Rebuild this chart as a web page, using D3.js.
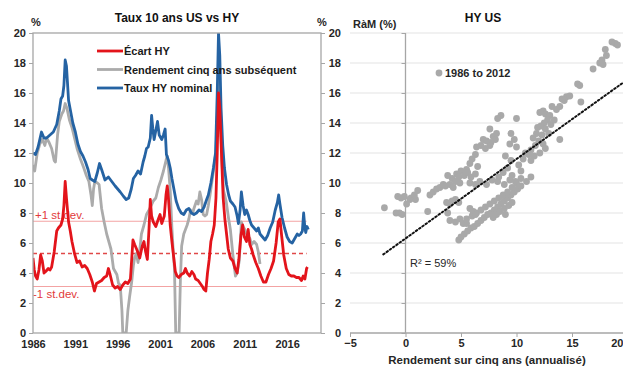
<!DOCTYPE html>
<html><head><meta charset="utf-8">
<script src="https://cdn.jsdelivr.net/npm/d3@7"></script>
<style>
body{margin:0;background:#fff;}
svg{display:block;font-family:"Liberation Sans",Arial,sans-serif;}
</style></head>
<body>
<svg id="c" width="623" height="366"></svg>
<script>
// ---------- DATA ----------
const yearTicks = [1986, 1991, 1996, 2001, 2006, 2011, 2016];
const yTicks = [0, 2, 4, 6, 8, 10, 12, 14, 16, 18, 20];
const scatterXTicks = [-5, 0, 5, 10, 15, 20];
const seriesNames = ["Écart HY", "Rendement cinq ans subséquent", "Taux HY nominal"];
const stdevLevels = {plus: 7.45, mean: 5.3, minus: 3.1};
const stdevLabels = ["+1 st.dev.", "-1 st.dev."];

const tauxHY = [[1986.0,12.0],[1986.3,11.9],[1986.6,12.4],[1987.0,13.4],[1987.3,13.0],[1987.6,13.0],[1988.0,13.2],[1988.4,13.4],[1988.8,13.9],[1989.1,14.8],[1989.3,15.6],[1989.5,15.8],[1989.65,16.5],[1989.8,18.2],[1989.95,17.8],[1990.2,15.5],[1990.4,14.9],[1990.7,14.0],[1991.0,13.4],[1991.3,12.6],[1991.6,12.1],[1991.9,11.8],[1992.2,11.4],[1992.5,10.9],[1992.75,10.3],[1993.0,10.2],[1993.3,10.1],[1993.6,10.7],[1993.85,11.3],[1994.1,10.9],[1994.5,10.2],[1994.9,10.4],[1995.3,10.1],[1995.7,9.8],[1996.0,9.6],[1996.3,9.4],[1996.7,9.1],[1997.0,8.9],[1997.3,9.0],[1997.6,9.6],[1997.85,10.3],[1998.1,10.5],[1998.4,10.8],[1998.7,10.6],[1999.0,11.4],[1999.2,11.8],[1999.4,12.3],[1999.6,12.4],[1999.85,13.0],[2000.0,14.5],[2000.15,13.6],[2000.3,12.9],[2000.5,13.5],[2000.7,14.1],[2000.9,13.2],[2001.2,12.9],[2001.4,13.2],[2001.6,13.6],[2001.75,11.9],[2002.0,11.5],[2002.2,11.0],[2002.4,10.3],[2002.6,9.7],[2002.9,8.8],[2003.2,8.3],[2003.5,8.0],[2003.8,7.9],[2004.1,8.2],[2004.4,8.3],[2004.7,8.0],[2005.0,7.9],[2005.3,8.0],[2005.6,8.2],[2005.9,8.1],[2006.2,8.4],[2006.5,8.9],[2006.7,9.2],[2007.0,10.0],[2007.3,11.0],[2007.55,12.0],[2007.75,16.0],[2007.9,20.0],[2008.05,18.5],[2008.2,15.0],[2008.4,12.5],[2008.6,11.0],[2008.85,9.9],[2009.1,9.2],[2009.3,8.8],[2009.6,8.6],[2009.85,8.4],[2010.1,7.8],[2010.25,7.3],[2010.45,8.2],[2010.6,9.4],[2010.8,8.5],[2011.0,7.9],[2011.2,8.2],[2011.4,7.9],[2011.6,7.5],[2011.8,7.2],[2012.1,7.0],[2012.4,6.8],[2012.6,7.0],[2012.8,6.6],[2013.1,6.4],[2013.4,6.2],[2013.7,6.5],[2014.0,7.0],[2014.3,7.4],[2014.6,8.2],[2014.85,8.7],[2015.0,9.2],[2015.15,8.6],[2015.4,7.7],[2015.7,7.0],[2016.0,6.4],[2016.3,6.1],[2016.6,6.0],[2016.9,6.3],[2017.2,6.6],[2017.4,6.5],[2017.6,6.6],[2017.8,6.8],[2017.95,8.0],[2018.1,7.0],[2018.2,6.7],[2018.35,7.1],[2018.5,6.9]];

const rendement5 = [[1986.0,11.2],[1986.2,10.8],[1986.5,12.0],[1986.8,12.6],[1987.1,12.9],[1987.4,12.5],[1987.6,13.0],[1987.9,12.7],[1988.2,12.3],[1988.5,11.5],[1988.65,11.4],[1988.9,13.2],[1989.1,14.1],[1989.4,14.6],[1989.6,14.8],[1989.8,15.3],[1990.0,15.0],[1990.3,14.2],[1990.6,13.7],[1990.9,13.0],[1991.2,12.3],[1991.6,11.6],[1992.0,11.0],[1992.3,10.5],[1992.6,10.1],[1992.85,9.2],[1993.0,8.5],[1993.15,9.6],[1993.3,10.1],[1993.6,10.0],[1993.8,9.9],[1994.1,8.3],[1994.4,7.4],[1994.7,6.6],[1995.0,6.0],[1995.2,5.6],[1995.5,4.3],[1995.9,3.9],[1996.1,3.3],[1996.3,3.2],[1996.5,1.5],[1996.6,0.0],[1997.0,0.0],[1997.2,1.5],[1997.4,2.4],[1997.65,3.4],[1997.85,4.5],[1998.0,5.0],[1998.2,5.3],[1998.4,4.7],[1998.6,5.5],[1998.8,6.6],[1999.1,7.2],[1999.4,7.9],[1999.8,8.3],[2000.2,8.8],[2000.5,9.0],[2000.8,9.7],[2001.1,10.2],[2001.4,10.8],[2001.7,11.5],[2001.85,11.8],[2002.0,11.0],[2002.2,9.5],[2002.4,7.0],[2002.55,5.5],[2002.7,4.3],[2002.85,0.0],[2003.25,0.0],[2003.4,3.5],[2003.55,5.8],[2003.8,6.6],[2004.0,6.9],[2004.2,7.2],[2004.4,7.6],[2004.6,8.2],[2004.85,8.0],[2005.0,8.3],[2005.3,8.8],[2005.5,8.6],[2005.7,9.4],[2005.9,8.9],[2006.1,7.9],[2006.3,7.8],[2006.5,7.9],[2006.7,8.5],[2006.9,9.2],[2007.1,10.0],[2007.3,10.8],[2007.6,12.1],[2007.8,15.0],[2007.95,17.0],[2008.1,15.0],[2008.3,11.5],[2008.5,9.5],[2008.8,8.8],[2009.1,7.6],[2009.3,6.9],[2009.6,5.2],[2009.9,3.8],[2010.1,4.0],[2010.35,4.8],[2010.6,7.4],[2010.8,7.1],[2011.0,6.9],[2011.3,6.5],[2011.6,6.3],[2011.8,5.9],[2012.1,6.1],[2012.4,5.9],[2012.6,5.4],[2012.8,4.6]];

const ecartHY = [[1986.0,5.0],[1986.15,4.2],[1986.3,3.8],[1986.5,3.6],[1986.7,4.2],[1986.9,5.2],[1987.1,4.8],[1987.3,4.0],[1987.5,4.1],[1987.8,4.3],[1988.0,4.2],[1988.2,4.4],[1988.5,5.4],[1988.8,6.8],[1989.0,7.0],[1989.3,7.2],[1989.5,7.6],[1989.65,8.5],[1989.8,10.1],[1989.95,9.0],[1990.2,7.4],[1990.4,6.8],[1990.6,6.1],[1990.9,5.3],[1991.2,4.7],[1991.5,4.8],[1991.8,4.4],[1992.1,4.5],[1992.4,4.3],[1992.7,3.9],[1993.0,3.4],[1993.25,2.8],[1993.5,3.3],[1993.8,3.4],[1994.1,3.5],[1994.4,3.7],[1994.7,3.8],[1994.9,4.3],[1995.1,3.9],[1995.4,3.2],[1995.7,3.0],[1996.0,3.1],[1996.3,2.9],[1996.6,3.2],[1996.9,3.4],[1997.2,3.3],[1997.5,3.6],[1997.8,6.2],[1998.0,5.9],[1998.3,5.5],[1998.6,5.0],[1998.9,5.8],[1999.1,6.1],[1999.3,5.4],[1999.5,4.9],[1999.7,7.0],[1999.85,8.9],[2000.0,7.8],[2000.2,7.4],[2000.5,7.1],[2000.8,7.6],[2001.0,7.9],[2001.2,7.3],[2001.5,7.8],[2001.7,9.2],[2001.85,9.8],[2002.0,8.9],[2002.2,7.2],[2002.4,6.1],[2002.6,5.1],[2002.8,4.1],[2003.0,3.8],[2003.2,3.7],[2003.5,3.9],[2003.8,4.0],[2004.0,4.3],[2004.2,4.0],[2004.5,3.8],[2004.75,4.1],[2005.0,3.9],[2005.2,3.6],[2005.5,3.5],[2005.75,3.3],[2006.0,3.1],[2006.2,2.9],[2006.4,2.8],[2006.6,4.0],[2006.8,4.9],[2007.0,6.1],[2007.2,6.6],[2007.4,7.2],[2007.6,9.0],[2007.75,12.0],[2007.9,16.0],[2008.05,15.0],[2008.25,12.0],[2008.45,9.0],[2008.65,7.6],[2008.85,6.6],[2009.05,5.6],[2009.3,5.0],[2009.6,4.8],[2009.85,4.3],[2010.1,4.0],[2010.3,4.9],[2010.55,6.5],[2010.75,7.2],[2010.95,6.4],[2011.2,6.1],[2011.4,6.9],[2011.6,5.9],[2011.8,5.6],[2012.0,5.2],[2012.3,4.7],[2012.6,4.3],[2012.9,3.8],[2013.2,3.4],[2013.5,3.4],[2013.8,3.9],[2014.1,4.3],[2014.4,4.8],[2014.7,6.0],[2014.95,7.4],[2015.15,7.6],[2015.35,6.5],[2015.6,5.2],[2015.9,4.3],[2016.2,3.9],[2016.5,3.8],[2016.8,3.8],[2017.1,3.7],[2017.4,3.7],[2017.7,3.5],[2017.9,3.8],[2018.1,3.6],[2018.3,4.3],[2018.4,4.4]];

// scatter: [5-yr subsequent return, yield]
const scatterPoints = [
[18.6,19.4],[18.9,19.3],[19.1,19.2],[18.0,18.9],[18.1,18.5],[17.7,18.2],[17.5,18.0],[17.8,17.9],[16.9,17.6],[15.7,16.5],[15.5,16.6],[15.8,15.4],[14.5,15.75],[14.8,15.8],[14.3,15.5],[14.1,15.6],[13.9,15.1],[13.6,14.9],[13.2,15.1],[13.9,12.9],
[12.4,14.8],[12.1,14.7],[12.6,14.6],[13.0,14.5],[12.8,14.2],[12.5,14.0],[12.2,13.8],[11.9,13.7],[12.6,13.6],[13.1,13.9],[13.4,14.2],[12.9,13.3],[12.3,13.2],[11.8,13.3],[11.5,13.0],[12.0,12.8],[12.4,12.6],[11.7,12.5],[11.3,12.2],[12.6,12.3],[11.1,11.9],[11.6,11.8],[12.1,12.0],[11.3,11.5],[10.8,12.0],[10.6,11.6],
[8.6,14.5],[8.3,14.3],[7.6,13.6],[7.9,13.1],[8.2,13.3],[7.0,12.9],[7.3,12.8],[7.7,12.7],[8.1,12.9],[6.8,12.5],[7.2,12.3],[7.6,12.5],[6.4,12.4],[6.3,11.9],[6.0,11.6],[5.8,11.3],[6.5,11.1],[5.5,10.9],[5.0,10.8],[4.6,10.6],[4.8,10.4],[5.3,10.5],[5.6,10.7],[4.2,10.3],[3.8,10.5],[5.9,10.4],[6.3,10.6],
[9.5,13.3],[9.8,12.9],[9.4,12.6],[10.0,12.4],[10.0,14.3],[9.0,11.8],[9.5,11.5],[9.2,11.0],[8.8,10.7],[9.6,10.5],[10.2,11.2],[10.4,10.8],[8.4,10.4],
[-1.9,8.35],[-0.85,8.0],[-0.55,8.0],[-0.3,7.9],[-0.7,9.1],[-0.4,9.0],[-0.1,9.1],[0.4,8.9],[0.1,8.6],[0.5,9.0],[0.9,8.9],[0.8,9.2],[1.1,9.5],[2.0,8.1],
[2.2,9.2],[2.5,9.4],[2.8,9.6],[3.1,9.7],[3.4,9.9],[3.6,9.8],[4.0,9.9],[4.5,10.1],[4.9,10.0],[4.3,9.7],
[3.7,8.7],[4.0,8.6],[4.2,8.8],[4.5,8.9],[4.8,8.7],[3.8,8.0],[4.0,7.5],[4.5,7.4],[4.9,7.6],[5.2,7.3],[5.5,7.3],
[4.8,6.2],[5.0,6.4],[5.3,6.6],[5.6,6.8],[5.9,7.0],[6.2,7.1],[6.5,7.3],[6.8,7.5],[7.1,7.7],[7.4,7.9],[7.7,8.0],[8.0,8.2],[8.3,8.4],[8.6,8.6],[8.9,8.8],[9.2,9.0],[9.5,9.2],[9.8,9.4],[10.1,9.6],[10.4,9.8],
[5.5,7.6],[6.0,7.8],[6.4,8.0],[6.8,8.2],[7.2,8.4],[7.6,8.6],[8.0,8.8],[8.4,9.0],[8.8,9.2],[9.2,9.4],[9.6,9.7],[10.0,10.0],
[7.9,7.7],[8.2,7.9],[8.5,8.1],[8.9,8.3],[9.3,8.5],[9.6,8.7],[9.0,7.9],[5.8,8.3],[6.1,8.1],[6.3,7.9],
[5.8,10.0],[6.3,9.9],[6.7,10.1],[7.3,9.9],[7.8,10.2],[8.3,10.1],[8.9,9.9],[9.4,10.2],[9.9,10.1],[10.4,10.3],[10.9,10.1],[11.3,10.4]
];
const scatterLabel = "1986 to 2012";
const trend = {intercept: 6.3, slope: 0.53, from: -2, to: 20};
const r2Label = "R² = 59%";

// ---------- DRAW ----------
const svg = d3.select("#c");
const FONT = '"Liberation Sans",Arial,sans-serif';
const axisCol = "#a6a6a6";
const colRed = "#e3141b", colGrey = "#ababab", colBlue = "#2563a3";

// LEFT CHART
const L = {x0: 33, x1: 321, y0: 333, y1: 33};
const xL = d3.scaleLinear().domain([1986, 2020]).range([L.x0, L.x1]);
const y = d3.scaleLinear().domain([0, 20]).range([L.y0, L.y1]);

const gL = svg.append("g");
const refEnd = 2018.3;
[stdevLevels.plus, stdevLevels.minus].forEach(v => {
  gL.append("line").attr("x1", xL(1986)).attr("x2", xL(refEnd))
    .attr("y1", y(v)).attr("y2", y(v)).attr("stroke", "#f3a3a3").attr("stroke-width", 1.2);
});
gL.append("line").attr("x1", xL(1986)).attr("x2", xL(refEnd))
  .attr("y1", y(stdevLevels.mean)).attr("y2", y(stdevLevels.mean))
  .attr("stroke", "#e04848").attr("stroke-width", 1.3).attr("stroke-dasharray", "4,3");
gL.append("text").attr("x", 35).attr("y", y(stdevLevels.plus) - 2)
  .attr("font-size", 11.5).attr("fill", "#e23a3a").text(stdevLabels[0]);
gL.append("text").attr("x", 33).attr("y", y(stdevLevels.minus) + 11)
  .attr("font-size", 11.5).attr("fill", "#e23a3a").text(stdevLabels[1]);

const line = d3.line().x(d => xL(d[0])).y(d => y(d[1]));
svg.append("clipPath").attr("id", "clipL").append("rect")
  .attr("x", L.x0).attr("y", L.y1).attr("width", L.x1 - L.x0).attr("height", L.y0 - L.y1);
const lines = gL.append("g").attr("clip-path", "url(#clipL)");
[[rendement5, colGrey], [tauxHY, colBlue], [ecartHY, colRed]].forEach(([d, c]) => {
  lines.append("path").datum(d).attr("d", line).attr("fill", "none")
    .attr("stroke", c).attr("stroke-width", 2.8).attr("stroke-linejoin", "round");
});

gL.append("rect").attr("x", L.x0).attr("y", L.y1).attr("width", L.x1 - L.x0).attr("height", L.y0 - L.y1)
  .attr("fill", "none").attr("stroke", axisCol).attr("stroke-width", 1.3);

const axL = d3.axisLeft(y).tickValues(yTicks).tickSize(4).tickPadding(3).tickFormat(d3.format("d"));
const gAL = gL.append("g").attr("transform", `translate(${L.x0},0)`).call(axL);
gAL.select(".domain").remove();
gAL.selectAll("line").attr("stroke", axisCol);
gAL.selectAll("text").attr("font-family", FONT).attr("font-size", 11).attr("font-weight", "bold").attr("fill", "#262626");
const axR = d3.axisRight(y).tickValues(yTicks).tickSize(4).tickFormat("");
const gAR = gL.append("g").attr("transform", `translate(${L.x1},0)`).call(axR);
gAR.select(".domain").remove();
gAR.selectAll("line").attr("stroke", axisCol);
const axB = d3.axisBottom(xL).tickValues(yearTicks).tickSize(0).tickPadding(7).tickFormat(d3.format("d"));
const gAB = gL.append("g").attr("transform", `translate(0,${L.y0})`).call(axB);
gAB.select(".domain").remove();
gAB.selectAll("text").attr("font-family", FONT).attr("font-size", 11).attr("font-weight", "bold").attr("fill", "#262626");

gL.append("text").attr("x", 177).attr("y", 22).attr("text-anchor", "middle")
  .attr("font-size", 12).attr("font-weight", "bold").attr("fill", "#111").text("Taux 10 ans US vs HY");
gL.append("text").attr("x", 36).attr("y", 26).attr("text-anchor", "middle")
  .attr("font-size", 11).attr("font-weight", "bold").attr("fill", "#262626").text("%");
gL.append("text").attr("x", 322).attr("y", 26).attr("text-anchor", "middle")
  .attr("font-size", 11).attr("font-weight", "bold").attr("fill", "#262626").text("%");

const legCols = [colRed, colGrey, colBlue];
seriesNames.forEach((n, i) => {
  const yy = 51 + i * 18.5;
  gL.append("line").attr("x1", 97).attr("x2", 123).attr("y1", yy).attr("y2", yy)
    .attr("stroke", legCols[i]).attr("stroke-width", 2.8);
  gL.append("text").attr("x", 124).attr("y", yy + 4).attr("font-size", 11).attr("font-weight", "bold")
    .attr("fill", "#1a1a1a").text(n);
});

// RIGHT CHART
const R = {x0: 350, x1: 623};
const xR = d3.scaleLinear().domain([-5, 20]).range([350, 627.5]);
const gR = svg.append("g");
yTicks.filter(v => v > 0).forEach(v => {
  gR.append("line").attr("x1", R.x0).attr("x2", R.x1).attr("y1", y(v)).attr("y2", y(v))
    .attr("stroke", "#e3e3e3").attr("stroke-width", 1);
});
const axX = d3.axisBottom(xR).tickValues(scatterXTicks).tickSize(4).tickPadding(2).tickFormat(d3.format("d"));
const gX = gR.append("g").attr("transform", `translate(0,${L.y0})`).call(axX);
gX.select(".domain").attr("d", `M${R.x0},0H${R.x1}`).attr("stroke", axisCol).attr("stroke-width", 1.3);
gX.selectAll("line").attr("stroke", axisCol);
gX.selectAll("text").attr("font-family", FONT).attr("font-size", 11).attr("font-weight", "bold").attr("fill", "#262626");
gX.selectAll(".tick").filter(d => d === 20).select("text").attr("text-anchor", "end").attr("dx", -4.5);
const axY = d3.axisLeft(y).tickValues(yTicks).tickSize(4).tickFormat("");
const gY = gR.append("g").attr("transform", `translate(${xR(0)},0)`).call(axY);
gY.select(".domain").attr("d", `M0,${L.y0}V${L.y1}`).attr("stroke", axisCol).attr("stroke-width", 1.3);
gY.selectAll("line").attr("stroke", axisCol);
yTicks.forEach(v => {
  gR.append("text").attr("x", 341).attr("y", y(v) + 4).attr("text-anchor", "end")
    .attr("font-size", 11).attr("font-weight", "bold").attr("fill", "#262626").text(v);
});
gR.append("g").selectAll("circle").data(scatterPoints).join("circle")
  .attr("cx", d => xR(d[0])).attr("cy", d => y(d[1])).attr("r", 3.4).attr("fill", "#a9a9a9");
svg.append("clipPath").attr("id", "clipR").append("rect").attr("x", R.x0).attr("y", L.y1).attr("width", R.x1 - R.x0).attr("height", L.y0 - L.y1);
gR.append("line").attr("clip-path", "url(#clipR)")
  .attr("x1", xR(trend.from)).attr("y1", y(trend.intercept + trend.slope * trend.from))
  .attr("x2", xR(trend.to)).attr("y2", y(trend.intercept + trend.slope * trend.to))
  .attr("stroke", "#111").attr("stroke-width", 2).attr("stroke-dasharray", "1.6,2.4").attr("stroke-linecap", "round");
gR.append("text").attr("x", 483).attr("y", 22).attr("text-anchor", "middle")
  .attr("font-size", 12).attr("font-weight", "bold").attr("fill", "#111").text("HY US");
gR.append("text").attr("x", 353).attr("y", 28)
  .attr("font-size", 11).attr("font-weight", "bold").attr("fill", "#262626").text("RàM (%)");
gR.append("circle").attr("cx", 439).attr("cy", 73).attr("r", 3.4).attr("fill", "#a9a9a9");
gR.append("text").attr("x", 445).attr("y", 77)
  .attr("font-size", 11).attr("font-weight", "bold").attr("fill", "#262626").text(scatterLabel);
gR.append("text").attr("x", 410).attr("y", 267)
  .attr("font-size", 11).attr("fill", "#262626").text(r2Label);
gR.append("text").attr("x", 487).attr("y", 363.5).attr("text-anchor", "middle")
  .attr("font-size", 11.5).attr("font-weight", "bold").attr("fill", "#262626").text("Rendement sur cinq ans (annualisé)");
</script>
</body></html>
